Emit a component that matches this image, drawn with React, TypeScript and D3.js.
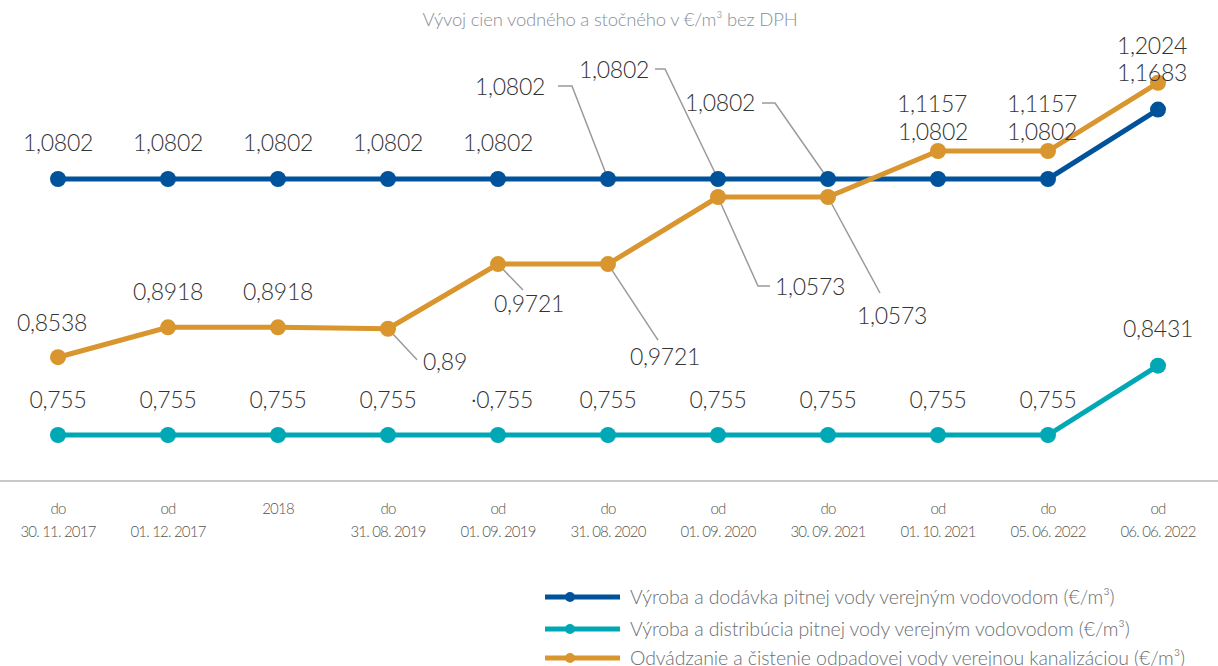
import React from "react";
import * as d3 from "d3";

const categoriesTop = ["do", "od", "2018", "do", "od", "do", "od", "do", "od", "do", "od"];
const categoriesBottom = ["30. 11. 2017", "01. 12. 2017", "", "31. 08. 2019", "01. 09. 2019", "31. 08. 2020", "01. 09. 2020", "30. 09. 2021", "01. 10. 2021", "05. 06. 2022", "06. 06. 2022"];

const seriesNames = [
  "Výroba a dodávka pitnej vody verejným vodovodom (€/m³)",
  "Výroba a distribúcia pitnej vody verejným vodovodom (€/m³)",
  "Odvádzanie a čistenie odpadovej vody verejnou kanalizáciou (€/m³)",
];
const dodavka = [1.0802, 1.0802, 1.0802, 1.0802, 1.0802, 1.0802, 1.0802, 1.0802, 1.0802, 1.0802, 1.1683];
const distribucia = [0.755, 0.755, 0.755, 0.755, 0.755, 0.755, 0.755, 0.755, 0.755, 0.755, 0.8431];
const odvadzanie = [0.8538, 0.8918, 0.8918, 0.89, 0.9721, 0.9721, 1.0573, 1.0573, 1.1157, 1.1157, 1.2024];
const distLabels = ["0,755", "0,755", "0,755", "0,755", "·0,755", "0,755", "0,755", "0,755", "0,755", "0,755", "0,8431"];

const colors = ["#00539b", "#00a8b5", "#d9952e"];

// label placement: [dx, dy] offset of label center from the dot; optional leader
type Lab = { dx: number; dy: number; leader?: [number, number][] };
const dodLab: Lab[] = [
  { dx: 0, dy: -36 }, { dx: 0, dy: -36 }, { dx: 0, dy: -36 }, { dx: 0, dy: -36 }, { dx: 0, dy: -36 },
  { dx: -98, dy: -92, leader: [[-50, -93], [-36, -93], [0, 0]] },
  { dx: -104, dy: -109, leader: [[-63, -110], [-53, -110], [0, 0]] },
  { dx: -108, dy: -76, leader: [[-66, -76], [-53, -76], [0, 0]] },
  { dx: -5, dy: -47 }, { dx: -6, dy: -47 }, { dx: -6, dy: -37 },
];
const odvLab: Lab[] = [
  { dx: -6, dy: -34 }, { dx: 0, dy: -35 }, { dx: 0, dy: -35 },
  { dx: 57, dy: 33, leader: [[0, 0], [29, 31]] },
  { dx: 31, dy: 40, leader: [[0, 0], [25, 26]] },
  { dx: 57, dy: 93, leader: [[0, 0], [50, 76]] },
  { dx: 92, dy: 90, leader: [[0, 0], [40, 89], [52, 89]] },
  { dx: 64, dy: 119, leader: [[0, 0], [52, 96]] },
  { dx: -6, dy: -47 }, { dx: -6, dy: -47 }, { dx: -6, dy: -37 },
];
const distLab: Lab[] = [
  { dx: 0, dy: -35 }, { dx: 0, dy: -35 }, { dx: 0, dy: -35 }, { dx: 0, dy: -35 }, { dx: 4, dy: -35 },
  { dx: 0, dy: -35 }, { dx: 0, dy: -35 }, { dx: 0, dy: -35 }, { dx: 0, dy: -35 }, { dx: 0, dy: -35 },
  { dx: 0, dy: -37 },
];

const fmt = (v: number) => String(v).replace(".", ",");

export default function App() {
  const W = 1218, H = 666;
  const x = d3.scalePoint<number>().domain(d3.range(categoriesTop.length)).range([58, 1158]);
  const y = d3.scaleLinear().domain([0.7, 1.25]).range([478.3, 45.3]);
  const line = d3.line<number>().x((_, i) => x(i)!).y((v) => y(v));
  const font = "Lato, 'Open Sans', sans-serif";

  const series = [
    { vals: dodavka, color: colors[0], labs: dodLab, texts: dodavka.map(fmt) },
    { vals: distribucia, color: colors[1], labs: distLab, texts: distLabels },
    { vals: odvadzanie, color: colors[2], labs: odvLab, texts: odvadzanie.map(fmt) },
  ];

  return (
    <svg width={W} height={H} style={{ position: "absolute", left: 0, top: 0, background: "#fff" }} fontFamily={font}>
      <text x={610} y={26} textAnchor="middle" fontSize={18.5} fill="#8a8f96" fontWeight={300} letterSpacing={-0.2}>
        Vývoj cien vodného a stočného v €/m³ bez DPH
      </text>
      <line x1={0} x2={W} y1={481} y2={481} stroke="#c8c8c8" strokeWidth={2} />
      {categoriesTop.map((c, i) => (
        <g key={"xl" + i}>
          <text x={x(i)} y={514} textAnchor="middle" fontSize={15} fill="#555" fontWeight={300} letterSpacing={-0.8}>{c}</text>
          <text x={x(i)} y={537} textAnchor="middle" fontSize={15} fill="#555" fontWeight={300} letterSpacing={-0.8}>{categoriesBottom[i]}</text>
        </g>
      ))}
      {series.map((s, si) =>
        s.labs.map((l, i) =>
          l.leader ? (
            <polyline key={"ld" + si + "-" + i}
              points={l.leader.map(([a, b]) => `${x(i)! + a},${y(s.vals[i]) + b}`).join(" ")}
              fill="none" stroke="#9a9a9a" strokeWidth={1.5} />
          ) : null
        )
      )}
      {series.map((s, si) => (
        <g key={"s" + si}>
          <path d={line(s.vals)!} fill="none" stroke={s.color} strokeWidth={5} />
          {s.vals.map((v, i) => (
            <circle key={i} cx={x(i)} cy={y(v)} r={8} fill={s.color} />
          ))}
        </g>
      ))}
      {series.map((s, si) =>
        s.labs.map((l, i) => (
          <text key={"lb" + si + "-" + i} x={x(i)! + l.dx} y={y(s.vals[i]) + l.dy} dy="0.35em"
            textAnchor="middle" fontSize={23} fill="#333" fontWeight={300} letterSpacing={-0.3}>
            {s.texts[i]}
          </text>
        ))
      )}
      {seriesNames.map((n, i) => {
        const ly = [597, 629, 658][i];
        return (
          <g key={"lg" + i}>
            <line x1={545} x2={620} y1={ly} y2={ly} stroke={colors[i]} strokeWidth={5} />
            <circle cx={570} cy={ly} r={5} fill={colors[i]} />
            <text x={630} y={ly} dy="0.35em" fontSize={19.5} fill="#6b6f74" fontWeight={300} letterSpacing={-0.1}>{n}</text>
          </g>
        );
      })}
    </svg>
  );
}
